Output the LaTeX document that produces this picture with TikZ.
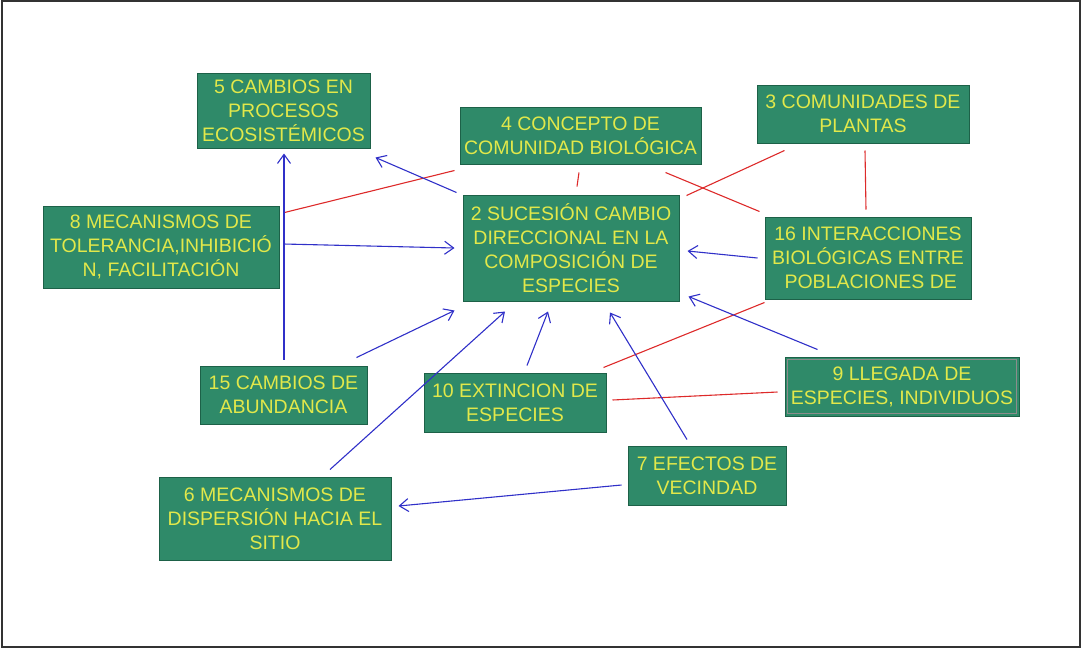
\documentclass[tikz,border=0pt]{standalone}
\usepackage{fontspec}
\setmainfont{Liberation Sans}
\usetikzlibrary{calc,arrows.meta}
\definecolor{boxfill}{HTML}{2F8A69}
\definecolor{boxedge}{HTML}{1D6148}
\definecolor{boxtext}{HTML}{E2E84A}
\definecolor{linkblue}{HTML}{3030C8}
\definecolor{linkred}{HTML}{DD2A2A}
\tikzset{
  concept/.style={rectangle, fill=boxfill, draw=boxedge, line width=1pt,
    text=boxtext, align=center, inner sep=0pt,
    font=\fontsize{19.5}{24}\selectfont},
  influence/.style={draw=linkblue, line width=1.1pt,
    -{Straight Barb[length=9pt,width=13pt,line width=1.1pt]}},
  relation/.style={draw=linkred, line width=1.1pt},
}
\begin{document}
\begin{tikzpicture}[x=1pt,y=-1pt]
\useasboundingbox (0,0) rectangle (1082,649);
\draw[line width=2pt, black!80] (2,1) rectangle (1080,647);

% concept boxes
\node[concept, minimum width=173, minimum height=75] (n5) at (283.5,110.5) {5 CAMBIOS EN\\PROCESOS\\ECOSISTÉMICOS};
\node[concept, minimum width=241, minimum height=57] (n4) at (580.5,135.5) {4 CONCEPTO DE\\COMUNIDAD BIOLÓGICA};
\node[concept, minimum width=216, minimum height=106] (n2) at (571,248) {2 SUCESIÓN CAMBIO\\DIRECCIONAL EN LA\\COMPOSICIÓN DE\\ESPECIES};
\node[concept, minimum width=212, minimum height=58] (n3) at (863,114) {3 COMUNIDADES DE\\PLANTAS};
\node[concept, minimum width=206, minimum height=82] (n16) at (868,258) {16 INTERACCIONES\\BIOLÓGICAS ENTRE\\\ POBLACIONES DE};
\node[concept, minimum width=236, minimum height=82] (n8) at (161,247) {8 MECANISMOS DE\\TOLERANCIA,INHIBICIÓ\\N, FACILITACIÓN};
\node[concept, minimum width=167, minimum height=58] (n15) at (283.5,395) {15 CAMBIOS DE\\ABUNDANCIA};
\node[concept, minimum width=182, minimum height=59] (n10) at (515,402.5) {10 EXTINCION DE\\ESPECIES};
\node[concept, minimum width=234, minimum height=59] (n9) at (902,386.5) {9 LLEGADA DE\\ESPECIES, INDIVIDUOS};
\draw[black!45, line width=1pt] ($(n9.north west)+(3,3)$) rectangle ($(n9.south east)+(-3,-3)$);
\node[concept, minimum width=232, minimum height=83] (n6) at (275,518.5) {6 MECANISMOS DE\\DISPERSIÓN HACIA EL\\SITIO};
\node[concept, minimum width=158, minimum height=59] (n7) at (707,475.5) {7 EFECTOS DE\\VECINDAD};

% red relations
\draw[relation] ($(n8.north east)+(5,7)$) -- ($(n4.south west)+(-5,6)$);
\draw[relation] ($(n4.south)+(-1.5,8)$) -- ($(n2.north)+(6,-8)$);
\draw[relation] ($(n4.south east)+(-36,8)$) -- ($(n16.north west)+(-5,-5)$);
\draw[relation] ($(n3.south west)+(28,7)$) -- ($(n2.north east)+(7,1)$);
\draw[relation] ($(n3.south)+(2,7)$) -- ($(n16.north)+(-2,-7)$);
\draw[relation] ($(n16.south west)+(0,3)$) -- ($(n10.north east)+(-3,-5)$);
\draw[relation] ($(n10.east)+(6,-2.5)$) -- ($(n9.west)+(-7,5.5)$);

% blue influences
\draw[influence] ($(n2.north west)+(-6,-2)$) -- ($(n5.south east)+(5,9)$);
\draw[influence] ($(n8.east)+(4,-3)$) -- ($(n2.west)+(-8,0)$);
\draw[influence] ($(n15.north)+(0.5,-6)$) -- ($(n5.south)+(0.5,5)$);
\draw[influence] ($(n15.north east)+(-11,-8)$) -- ($(n2.south west)+(-8,9)$);
\draw[influence] ($(n6.north)+(55,-7)$) -- ($(n2.south)+(-66,10)$);
\draw[influence] ($(n10.north)+(12,-7)$) -- ($(n2.south)+(-23,10)$);
\draw[influence] ($(n7.north)+(-20,-6)$) -- ($(n2.south)+(39,11)$);
\draw[influence] ($(n9.north west)+(33,-7)$) -- ($(n2.south east)+(9,-5)$);
\draw[influence] ($(n16.west)+(-7,0)$) -- ($(n2.east)+(8,3)$);
\draw[influence] ($(n7.west)+(-6,9.5)$) -- ($(n6.east)+(7,-12.5)$);
\end{tikzpicture}
\end{document}
